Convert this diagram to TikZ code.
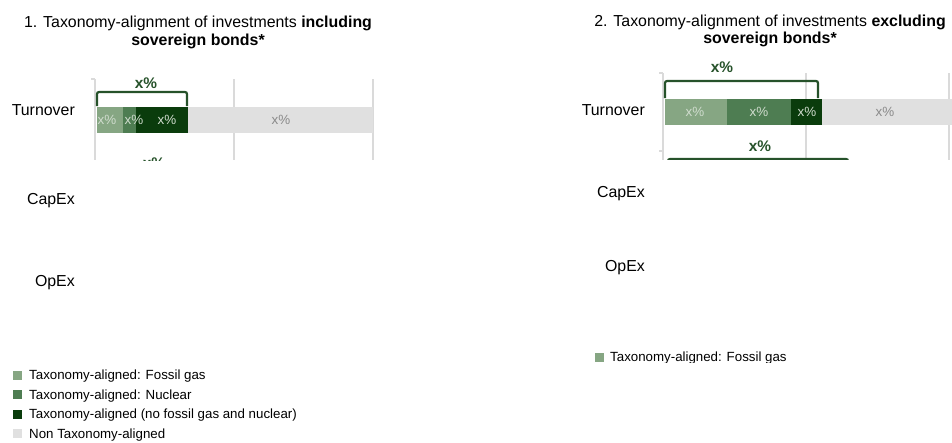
\documentclass[tikz,border=0pt]{standalone}
\usepackage{fontspec}
\setmainfont{Liberation Sans}
\usetikzlibrary{positioning}
\definecolor{gasgreen}{RGB}{134,166,131}
\definecolor{nucgreen}{RGB}{78,125,82}
\definecolor{aligngreen}{RGB}{10,60,12}
\definecolor{nongray}{RGB}{224,224,224}
\definecolor{bracegreen}{RGB}{38,82,42}
\definecolor{gridgray}{RGB}{218,218,218}
\definecolor{lighttext}{RGB}{208,220,206}
\definecolor{graytext}{RGB}{138,138,138}

\tikzset{
  titletext/.style={anchor=base, inner sep=0pt, font=\fontsize{15.9}{18}\selectfont},
  axlabel/.style={anchor=east, inner sep=0pt, font=\fontsize{15.9}{18}\selectfont},
  bartext/.style={inner sep=0pt, font=\fontsize{13.4}{16}\selectfont, text=lighttext},
  toplabel/.style={inner sep=0pt, font=\fontsize{15.4}{18}\selectfont\bfseries, text=bracegreen},
  legtext/.style={anchor=base west, inner sep=0pt, font=\fontsize{13.3}{16}\selectfont},
  gridline/.style={draw=gridgray, line width=1.2pt},
  brace/.style={draw=bracegreen, line width=2.2pt, rounded corners=2pt}
}

\begin{document}
\begin{tikzpicture}[x=1pt,y=-1pt]
\useasboundingbox (0,0) rectangle (952,442);

% titles
\node[titletext] (titleA) at (198,27.5) {1. Taxonomy-alignment of investments \textbf{including}};
\node[titletext] (titleAb) at (198,45.5) {\textbf{sovereign bonds*}};
\node[titletext] (titleB) at (770,26) {2. Taxonomy-alignment of investments \textbf{excluding}};
\node[titletext] (titleBb) at (770,43.5) {\textbf{sovereign bonds*}};

% row labels
\node[axlabel] (turnA) at (75,110) {Turnover};
\node[axlabel] (capA) at (75,201) {CapEx};
\node[axlabel] (opA) at (75,283) {OpEx};
\node[axlabel] (turnB) at (645,110) {Turnover};
\node[axlabel] (capB) at (645,194) {CapEx};
\node[axlabel] (opB) at (645,268) {OpEx};

% chart 1
\begin{scope}
\clip (80,60) rectangle (400,160);
\draw[gridline] (95,79) -- (95,160);
\draw[gridline] (91,79) -- (95,79);
\draw[gridline] (234,79) -- (234,160);
\draw[gridline] (373,79) -- (373,160);
\fill[gasgreen] (97,107) rectangle (123,133);
\fill[nucgreen] (123,107) rectangle (136,133);
\fill[aligngreen] (136,107) rectangle (188,133);
\fill[nongray] (188,107) rectangle (373,133);
\node[bartext] (a1) at (107,120) {x\%};
\node[bartext] (a2) at (134,120) {x\%};
\node[bartext] (a3) at (167,120) {x\%};
\node[bartext, text=graytext] (a4) at (281,120) {x\%};
\draw[brace] (97,106) -- (97,92) -- (187,92) -- (187,106);
\node[toplabel] (sumA) at (146,83) {x\%};
\node[toplabel] (sumAc) at (154,163) {x\%};
\end{scope}

% chart 2
\begin{scope}
\clip (650,50) rectangle (952,159.5);
\draw[gridline] (663,73) -- (663,160);
\draw[gridline] (659,73) -- (663,73);
\draw[gridline] (659,151) -- (663,151);
\draw[gridline] (806,73) -- (806,160);
\draw[gridline] (949,73) -- (949,160);
\fill[gasgreen] (665,99) rectangle (727,125);
\fill[nucgreen] (727,99) rectangle (791,125);
\fill[aligngreen] (791,99) rectangle (822,125);
\fill[nongray] (822,99) rectangle (952,125);
\node[bartext] (b1) at (695,112) {x\%};
\node[bartext] (b2) at (759,112) {x\%};
\node[bartext] (b3) at (807,112) {x\%};
\node[bartext, text=graytext] (b4) at (885,112) {x\%};
\draw[brace] (665,98) -- (665,81) -- (818,81) -- (818,98);
\node[toplabel] (sumB) at (722,67) {x\%};
\node[toplabel] (sumBc) at (760,146) {x\%};
\draw[brace] (668,172) -- (668,159) -- (848,159) -- (848,172);
\end{scope}

% legend 1
\begin{scope}
\clip (0,360) rectangle (400,442);
\foreach \c/\t [count=\i] in {gasgreen/Taxonomy-aligned: Fossil gas,
    nucgreen/Taxonomy-aligned: Nuclear,
    aligngreen/Taxonomy-aligned (no fossil gas and nuclear),
    nongray/Non Taxonomy-aligned} {
  \fill[\c] (13,{351+19.5*\i}) rectangle (22,{360+19.5*\i});
  \node[legtext] (leg\i) at (29,{360+19.5*\i}) {\t};
}
\end{scope}

% legend 2
\begin{scope}
\clip (580,340) rectangle (820,362.5);
\fill[gasgreen] (595,353) rectangle (604,362);
\node[legtext] (legB) at (610,361.3) {Taxonomy-aligned: Fossil gas};
\end{scope}
\end{tikzpicture}
\end{document}
